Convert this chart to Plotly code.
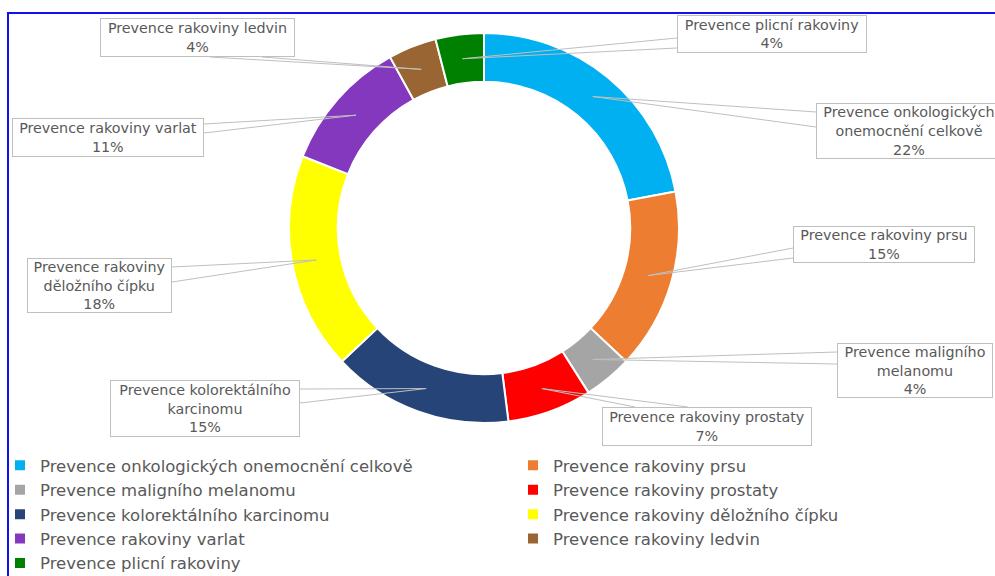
import math
import plotly.graph_objects as go

# ---------------- data ----------------
labels = [
    "Prevence onkologických onemocnění celkově",
    "Prevence rakoviny prsu",
    "Prevence maligního melanomu",
    "Prevence rakoviny prostaty",
    "Prevence kolorektálního karcinomu",
    "Prevence rakoviny děložního čípku",
    "Prevence rakoviny varlat",
    "Prevence rakoviny ledvin",
    "Prevence plicní rakoviny",
]
callout_texts = [
    "Prevence onkologických<br>onemocnění celkově",
    "Prevence rakoviny prsu",
    "Prevence maligního<br>melanomu",
    "Prevence rakoviny prostaty",
    "Prevence kolorektálního<br>karcinomu",
    "Prevence rakoviny<br>děložního čípku",
    "Prevence rakoviny varlat",
    "Prevence rakoviny ledvin",
    "Prevence plicní rakoviny",
]
values = [22, 15, 4, 7, 15, 18, 11, 4, 4]
colors = ["#00B0F0", "#ED7D31", "#A5A5A5", "#FF0000", "#264478",
          "#FFFF00", "#8338BE", "#996633", "#008000"]

# ---------------- layout constants (pixels) ----------------
# The original chart is wider than the visible window (its right part is cropped),
# so the figure is laid out a little wider than the 995 px viewport.
W, H = 1040, 576
CX, CY, R = 484, 228, 195
HOLE = 0.75
TXT = "#595959"
LINE = "#BFBFBF"
FONT = "DejaVu Sans"

# callout boxes: (x0, y0, width, height) and the two points where the leader meets the box
boxes = [
    (816, 103, 186, 56, (816, 112), (816, 127)),
    (793, 226, 182, 37, (793, 248), (793, 258)),
    (837, 343, 156, 55, (837, 352), (837, 364)),
    (602, 407, 210, 39, (635, 407), (688, 407)),
    (110, 380, 190, 57, (300, 389), (300, 403)),
    (27, 258, 145, 55, (172, 267), (172, 282)),
    (12, 118, 192, 39, (204, 124), (204, 133)),
    (100, 18, 195, 39, (210, 57), (262, 57)),
    (677, 15, 190, 38, (677, 38), (677, 48)),
]


def px(x):
    return x / W


def py(y):
    return 1 - y / H


fig = go.Figure()
fig.add_trace(go.Pie(
    labels=labels,
    values=values,
    hole=HOLE,
    sort=False,
    direction="clockwise",
    rotation=0,
    textinfo="none",
    marker=dict(colors=colors, line=dict(color="white", width=2)),
    domain=dict(x=[px(CX - R), px(CX + R)], y=[py(CY + R), py(CY - R)]),
    showlegend=True,
))

total = sum(values)
shapes = []
annotations = []
cum = 0
for v, txt, b in zip(values, callout_texts, boxes):
    theta = 2 * math.pi * (cum + v / 2) / total
    cum += v
    rr = R * (1 + HOLE) / 2
    ax = CX + rr * math.sin(theta)
    ay = CY - rr * math.cos(theta)
    x0, y0, w, h, p1, p2 = b
    pct = round(100 * v / total)
    shapes.append(dict(
        type="path", xref="paper", yref="paper",
        path=f"M {px(p1[0])} {py(p1[1])} L {px(ax)} {py(ay)} L {px(p2[0])} {py(p2[1])}",
        line=dict(color=LINE, width=1),
    ))
    annotations.append(dict(
        x=px(x0), y=py(y0), xref="paper", yref="paper",
        xanchor="left", yanchor="top",
        width=w - 2, height=h - 2,
        text=f"{txt}<br>{pct}%",
        showarrow=False, align="center", valign="middle",
        font=dict(family=FONT, size=14.3, color=TXT),
        bgcolor="white", bordercolor=LINE, borderwidth=1, borderpad=0,
    ))

# outer blue chart border (cropped at the right and bottom)
shapes.append(dict(
    type="rect", xref="paper", yref="paper",
    x0=px(8), x1=px(W + 10), y0=py(H + 10), y1=py(13),
    line=dict(color="#1010F0", width=2),
))

fig.update_layout(
    width=W, height=H,
    margin=dict(l=0, r=0, t=0, b=0, autoexpand=False),
    paper_bgcolor="white",
    plot_bgcolor="white",
    shapes=shapes,
    annotations=annotations,
    legend=dict(
        orientation="h",
        x=0, y=py(448), xanchor="left", yanchor="top",
        entrywidth=468, entrywidthmode="pixels",
        font=dict(family=FONT, size=16.5, color=TXT),
        bgcolor="rgba(0,0,0,0)",
        traceorder="normal",
        maxheight=1,
    ),
)

fig.write_html(
    "out.html",
    config={"displayModeBar": False},
    post_script="document.body.style.margin='0';document.body.style.overflow='hidden';",
)
